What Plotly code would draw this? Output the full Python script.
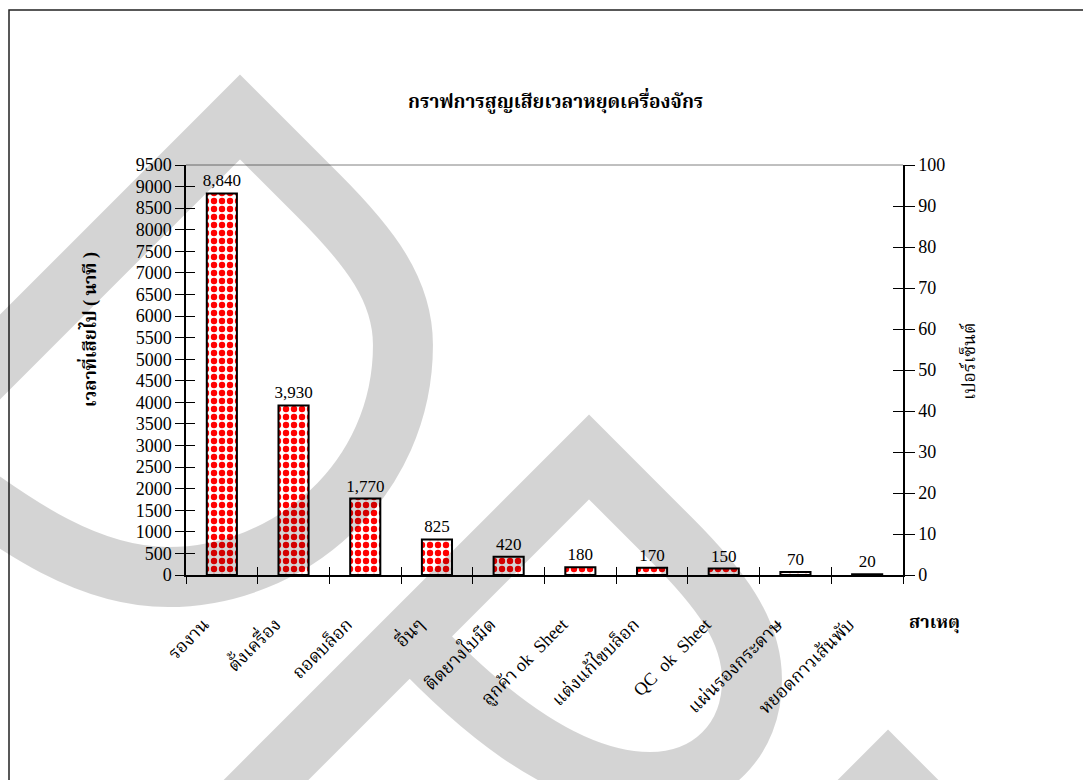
import plotly.graph_objects as go

# ---------------- data ----------------
categories = ["รองาน", "ตั้งเครื่อง", "ถอดบล็อก", "อื่นๆ", "ติดยางใบมีด",
              "ลูกค้า ok  Sheet", "แต่งแก้ไขบล็อก", "QC  ok  Sheet", "แผ่นรองกระดาษ", "หยอดกาวเส้นพับ"]
minutes = [8840, 3930, 1770, 825, 420, 180, 170, 150, 70, 20]
left_ticks = list(range(0, 9501, 500))
right_ticks = list(range(0, 101, 10))

title_text = "กราฟการสูญเสียเวลาหยุดเครื่องจักร"
ytitle_left = "เวลาที่เสียไป ( นาที )"
ytitle_right = "เปอร์เซ็นต์"
xtitle = "สาเหตุ"

# ---------------- layout geometry ----------------
W, H = 1083, 780
L, R, T, B = 186, 180, 165, 205
PW, PH = W - L - R, H - T - B


def px(x):
    return (x - L) / PW


def py(y):
    return 1 - (y - T) / PH


def path(cmds):
    out = []
    for c in cmds:
        if isinstance(c, str):
            out.append(c)
        else:
            out.append(f"{px(c[0]):.4f},{py(c[1]):.4f}")
    return " ".join(out)


FONT = "Liberation Serif, Times New Roman, Noto Serif Thai, Noto Sans Thai, serif"

fig = go.Figure()
fig.add_trace(go.Bar(
    x=categories, y=minutes,
    marker=dict(color="#ff0000", line=dict(color="black", width=2),
                pattern=dict(shape=".", fgcolor="#ff0000", bgcolor="white",
                             size=8, solidity=0.5, fillmode="replace")),
    texttemplate="%{y:,}", textposition="outside", cliponaxis=False,
    constraintext="none",
    textfont=dict(family=FONT, size=17, color="black"),
    showlegend=False, hoverinfo="skip",
))

n = len(categories)
bounds = [i - 0.5 for i in range(n + 1)]

# empty helper traces so that the overlay axes (cross-tick halves, right axis) get drawn
for xa, ya in (("x2", "y"), ("x3", "y"), ("x", "y2"), ("x", "y3"), ("x", "y4")):
    fig.add_trace(go.Scatter(x=[None], y=[None], xaxis=xa, yaxis=ya, mode="markers",
                             showlegend=False, hoverinfo="skip"))

fig.update_layout(
    width=W, height=H,
    margin=dict(l=L, r=R, t=T, b=B),
    paper_bgcolor="white", plot_bgcolor="rgba(0,0,0,0)",
    bargap=0.58,
    font=dict(family=FONT, size=17, color="black"),
    xaxis=dict(type="category", showline=True, linecolor="black", linewidth=1.5,
               ticks="", tickangle=-45, tickfont=dict(size=18),
               ticklabelstandoff=30, ticklabelshift=-18,
               showgrid=False, zeroline=False, anchor="y"),
    xaxis2=dict(overlaying="x", anchor="y", range=[-0.5, n - 0.5], tickvals=bounds,
                ticks="outside", ticklen=8, tickcolor="black", tickwidth=1,
                showticklabels=False, showgrid=False, zeroline=False, showline=False),
    xaxis3=dict(overlaying="x", anchor="y", range=[-0.5, n - 0.5], tickvals=bounds,
                ticks="inside", ticklen=8, tickcolor="black", tickwidth=1,
                showticklabels=False, showgrid=False, zeroline=False, showline=False),
    yaxis=dict(range=[0, 9500], tickvals=left_ticks, ticks="outside", ticklen=9,
               tickcolor="black", showline=True, linecolor="black", linewidth=1.5,
               showgrid=False, zeroline=False, tickfont=dict(size=18), anchor="x"),
    yaxis3=dict(overlaying="y", side="left", anchor="x", range=[0, 9500], tickvals=left_ticks,
                ticks="inside", ticklen=9, tickcolor="black", showticklabels=False,
                showgrid=False, zeroline=False, showline=False),
    yaxis2=dict(overlaying="y", side="right", anchor="x", range=[0, 100], tickvals=right_ticks,
                ticks="outside", ticklen=10, tickcolor="black", showline=True, linecolor="black",
                linewidth=1.5, showgrid=False, zeroline=False, tickfont=dict(size=18)),
    yaxis4=dict(overlaying="y", side="right", anchor="x", range=[0, 100], tickvals=right_ticks,
                ticks="inside", ticklen=10, tickcolor="black", showticklabels=False,
                showgrid=False, zeroline=False, showline=False),
)

# titles
ann = dict(xref="paper", yref="paper", showarrow=False, xanchor="center", yanchor="middle")
fig.add_annotation(text=f"<b>{title_text}</b>", x=px(555), y=py(100), font=dict(size=19), **ann)
fig.add_annotation(text=f"<b>{ytitle_left}</b>", x=px(88), y=py(330), textangle=-90,
                   font=dict(size=18), **ann)
fig.add_annotation(text=ytitle_right, x=px(968), y=py(362), textangle=-90,
                   font=dict(size=18), **ann)
fig.add_annotation(text=f"<b>{xtitle}</b>", x=px(935), y=py(623), font=dict(size=18), **ann)

# plot-area top line and outer frame
fig.add_shape(type="line", xref="paper", yref="paper", x0=0, x1=1, y0=1, y1=1,
              line=dict(color="#808080", width=1))
fig.add_shape(type="rect", xref="paper", yref="paper",
              x0=px(9), x1=px(1100), y0=py(10), y1=py(800),
              line=dict(color="#222222", width=1.5), fillcolor="rgba(0,0,0,0)")

# watermark (light grey drop outlines drawn over the chart)
WM = dict(color="rgba(0,0,0,0.17)", width=60)
drop1 = path(["M", (-200, 557), "L", (240, 117), "L", (318, 195),
              "C", (370, 247), (403, 290), (403, 345),
              "C", (403, 480), (290, 577), (168, 577),
              "C", (90, 577), (20, 530), (-60, 470), "L", (-130, 460)])
drop2 = path(["M", (100, 946), "L", (589, 457), "L", (670, 538),
              "C", (720, 588), (752, 630), (752, 680),
              "C", (752, 740), (710, 782), (650, 782),
              "C", (560, 782), (470, 700), (410, 636)])
drop3 = path(["M", (680, 980), "L", (888, 772), "L", (1096, 980)])
for p in (drop1, drop2, drop3):
    fig.add_shape(type="path", path=p, xref="paper", yref="paper", layer="above",
                  line=WM, fillcolor="rgba(0,0,0,0)")

fig.write_html("out.html")
